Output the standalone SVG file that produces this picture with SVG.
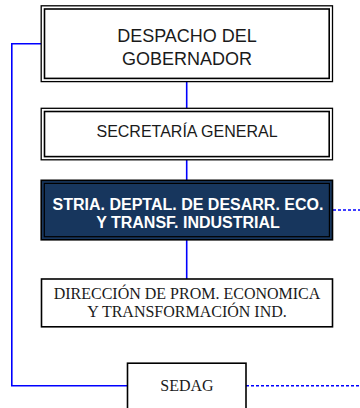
<svg xmlns="http://www.w3.org/2000/svg" width="360" height="408" viewBox="0 0 360 408">
<style>
.bg{fill:#ffffff}
.outer{fill:#ffffff;stroke:#000;stroke-width:1.3}
.inner{fill:none;stroke:#000;stroke-width:1.6}
.douter{fill:#17365d;stroke:#000;stroke-width:1.6}
.dinner{fill:none;stroke:#000;stroke-width:1.2}
.single{fill:#ffffff;stroke:#000;stroke-width:1.6}
.solid{fill:none;stroke:#0000ff;stroke-width:1.6}
.dot{fill:none;stroke:#0000ff;stroke-width:1.6;stroke-dasharray:3 2}
.sans{font-family:"Liberation Sans",Arial,sans-serif;fill:#1a1a1a;text-anchor:middle}
.bold{font-family:"Liberation Sans",Arial,sans-serif;font-weight:bold;fill:#ffffff;text-anchor:middle}
.serif{font-family:"Liberation Serif","Times New Roman",serif;fill:#1a1a1a;text-anchor:middle}
</style>
<rect class="bg" x="0" y="0" width="360" height="408"/>
<g id="connectors">
<line class="solid" x1="186.7" y1="82" x2="186.7" y2="108"/>
<line class="solid" x1="186.7" y1="160" x2="186.7" y2="180"/>
<line class="solid" x1="186.7" y1="240" x2="186.7" y2="279"/>
<polyline class="solid" points="41,43.8 11.8,43.8 11.8,385.7 127.5,385.7"/>
<line class="dot" x1="333" y1="210" x2="360" y2="210"/>
<line class="dot" x1="246" y1="385.7" x2="360" y2="385.7"/>
</g>
<g id="despacho">
<rect class="outer" x="41.2" y="5.8" width="291.3" height="75.8"/>
<rect class="inner" x="44.5" y="9" width="284.7" height="69.4"/>
<text class="sans" x="187" y="41.7" font-size="18">DESPACHO DEL</text>
<text class="sans" x="187" y="65" font-size="18">GOBERNADOR</text>
</g>
<g id="secretaria">
<rect class="outer" x="41.2" y="108.3" width="291.3" height="51.5"/>
<rect class="inner" x="44.5" y="111.5" width="284.7" height="45.1"/>
<text class="sans" x="187" y="136.7" font-size="16">SECRETARÍA GENERAL</text>
</g>
<g id="stria">
<rect class="douter" x="41.2" y="180.3" width="291.3" height="59.5"/>
<rect class="dinner" x="44.3" y="183.4" width="285.1" height="53.3"/>
<text class="bold" x="188" y="210" font-size="16">STRIA. DEPTAL. DE DESARR. ECO.</text>
<text class="bold" x="188" y="228.3" font-size="16">Y TRANSF. INDUSTRIAL</text>
</g>
<g id="direccion">
<rect class="single" x="41.5" y="279" width="291" height="47.8"/>
<text class="serif" x="187" y="298.7" font-size="16">DIRECCIÓN DE PROM. ECONOMICA</text>
<text class="serif" x="187" y="316.7" font-size="16">Y TRANSFORMACIÓN IND.</text>
</g>
<g id="sedag">
<rect class="single" x="127.5" y="363.2" width="118.5" height="50"/>
<text class="serif" x="187" y="390.7" font-size="16">SEDAG</text>
</g>
</svg>
